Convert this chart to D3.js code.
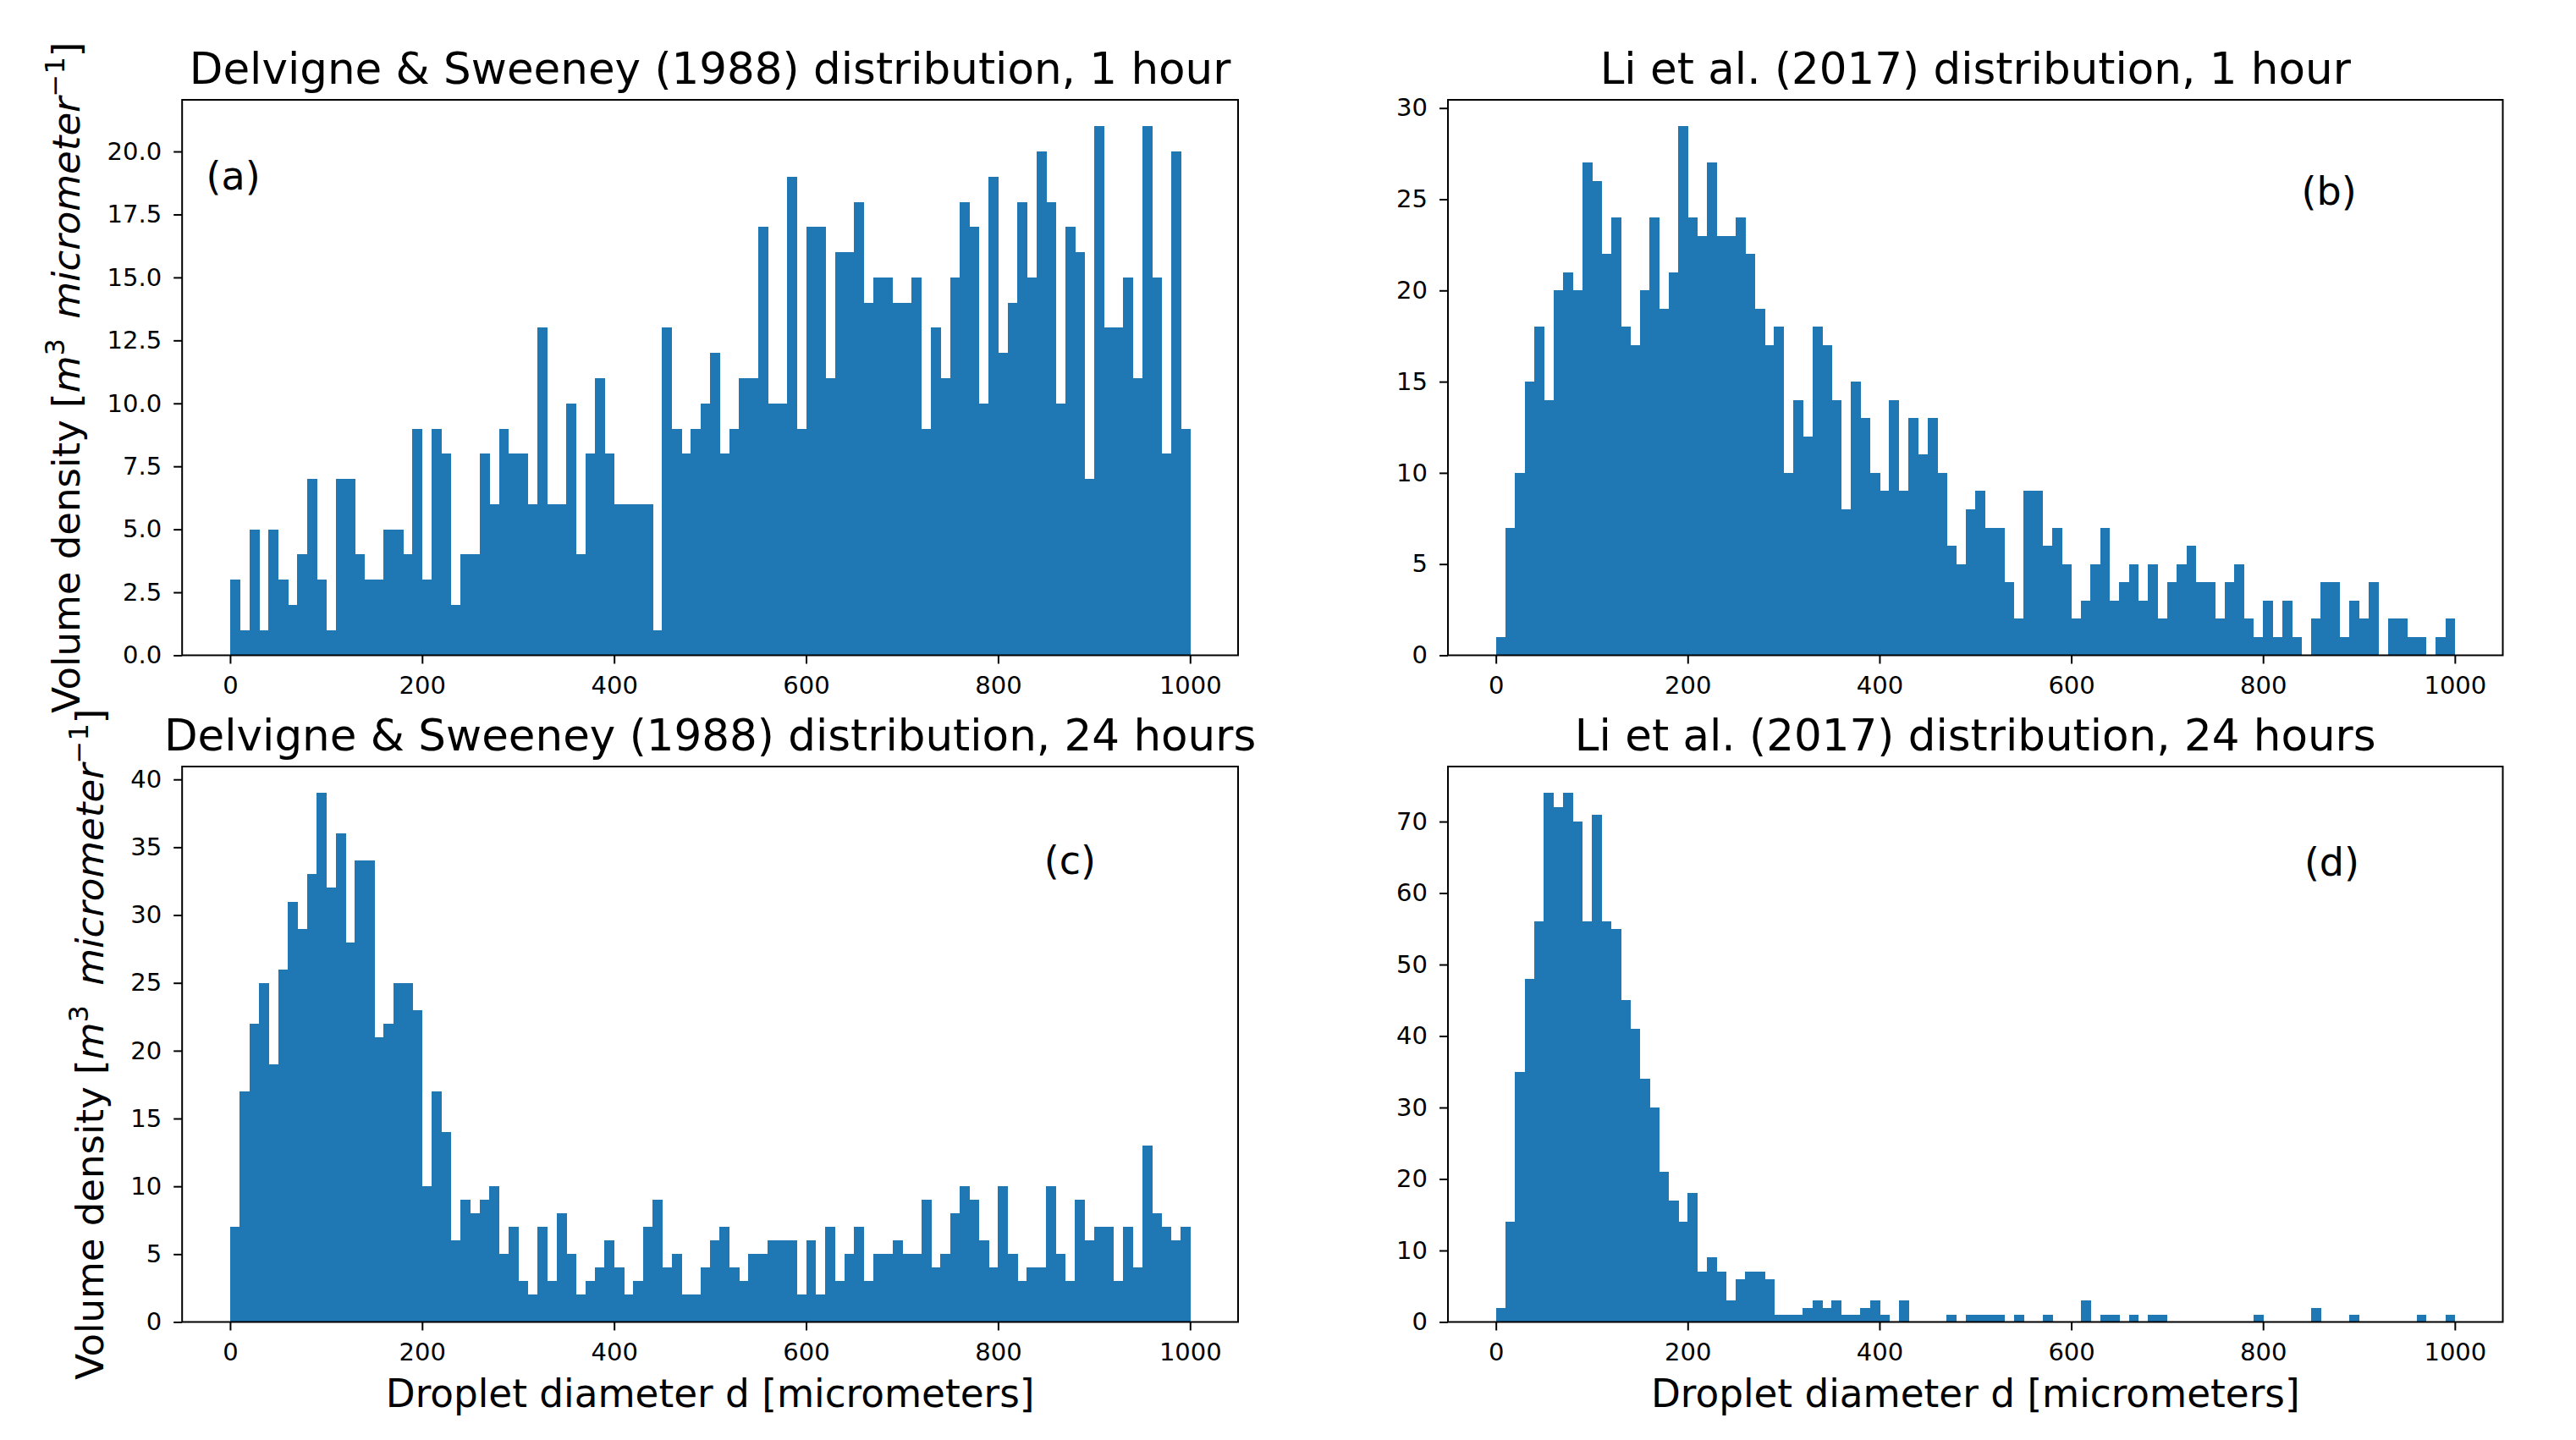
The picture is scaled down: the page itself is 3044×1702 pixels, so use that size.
<!DOCTYPE html>
<html>
<head>
<meta charset="utf-8">
<script src="https://cdn.jsdelivr.net/npm/d3@7"></script>
<style>
  html, body { margin: 0; padding: 0; background: #ffffff; }
  svg { display: block; }
</style>
</head>
<body>
<svg id="chart" width="3044" height="1702"></svg>
<script>
// ---------------- DATA ----------------
// bin left edges (micrometers), bin width 10
const binWidth = 10;
const binStarts = d3.range(0, 1000, binWidth);

// (a) Delvigne & Sweeney (1988), 1 hour
const dsw1h = [
  3,1,5,1,5,3,2,4,7,3,
  1,7,7,4,3,3,5,5,4,9,
  3,9,8,2,4,4,8,6,9,8,
  8,6,13,6,6,10,4,8,11,8,
  6,6,6,6,1,13,9,8,9,10,
  12,8,9,11,11,17,10,10,19,9,
  17,17,11,16,16,18,14,15,15,14,
  14,15,9,13,11,15,18,17,10,19,
  12,14,18,15,20,18,10,17,16,7,
  21,13,13,15,11,21,15,8,20,9
];
// (b) Li et al. (2017), 1 hour
const li1h = [
  1,7,10,15,18,14,20,21,20,27,
  26,22,24,18,17,20,24,19,21,29,
  24,23,27,23,23,24,22,19,17,18,
  10,14,12,18,17,14,8,15,13,10,
  9,14,9,13,11,13,10,6,5,8,
  9,7,7,4,2,9,9,6,7,5,
  2,3,5,7,3,4,5,3,5,2,
  4,5,6,4,4,2,4,5,2,1,
  3,1,3,1,0,2,4,4,1,3,
  2,4,0,2,2,1,1,0,1,2
];
// (c) Delvigne & Sweeney (1988), 24 hours
const dsw24h = [
  7,17,22,25,19,26,31,29,33,39,
  32,36,28,34,34,21,22,25,25,23,
  10,17,14,6,9,8,9,10,5,7,
  3,2,7,3,8,5,2,3,4,6,
  4,2,3,7,9,4,5,2,2,4,
  6,7,4,3,5,5,6,6,6,2,
  6,2,7,3,5,7,3,5,5,6,
  5,5,9,4,5,8,10,9,6,4,
  10,5,3,4,4,10,5,3,9,6,
  7,7,3,7,4,13,8,7,6,7
];
// (d) Li et al. (2017), 24 hours
const li24h = [
  2,14,35,48,56,74,72,74,70,56,
  71,56,55,45,41,34,30,21,17,14,
  18,7,9,7,3,6,7,7,6,1,
  1,1,2,3,2,3,1,1,2,3,
  1,0,3,0,0,0,0,1,0,1,
  1,1,1,0,1,0,0,1,0,0,
  0,3,0,1,1,0,1,0,1,1,
  0,0,0,0,0,0,0,0,0,1,
  0,0,0,0,0,2,0,0,0,1,
  0,0,0,0,0,0,1,0,0,1
];

// tick labels
const xTicks = [0, 200, 400, 600, 800, 1000];
const yTicksA = [0, 2.5, 5, 7.5, 10, 12.5, 15, 17.5, 20];
const yTicksB = [0, 5, 10, 15, 20, 25, 30];
const yTicksC = [0, 5, 10, 15, 20, 25, 30, 35, 40];
const yTicksD = [0, 10, 20, 30, 40, 50, 60, 70];

const titles = [
  "Delvigne & Sweeney (1988) distribution, 1 hour",
  "Li et al. (2017) distribution, 1 hour",
  "Delvigne & Sweeney (1988) distribution, 24 hours",
  "Li et al. (2017) distribution, 24 hours"
];
const panelTags = ["(a)", "(b)", "(c)", "(d)"];
const xLabel = "Droplet diameter d [micrometers]";

// ---------------- LAYOUT ----------------
const FONT = "DejaVu Sans, Verdana, sans-serif";
const barColor = "#1f77b4";

const panels = [
  { values: dsw1h,  yTicks: yTicksA, fmt: d3.format(".1f"), box: {l: 215.2, r: 1463, t: 118, b: 774.5},  tagPos: [-25, 18.5], ylabel: true,  ylabelX: 94,  xlabel: false },
  { values: li1h,   yTicks: yTicksB, fmt: d3.format("d"),   box: {l: 1711,  r: 2957.5, t: 118, b: 774.5}, tagPos: [840, 24.7], ylabel: false, xlabel: false },
  { values: dsw24h, yTicks: yTicksC, fmt: d3.format("d"),   box: {l: 215.2, r: 1463, t: 906, b: 1562.5},  tagPos: [848, 33],   ylabel: true,  ylabelX: 122, xlabel: true },
  { values: li24h,  yTicks: yTicksD, fmt: d3.format("d"),   box: {l: 1711,  r: 2957.5, t: 906, b: 1562.5}, tagPos: [843, 62.4], ylabel: false, xlabel: true }
];

const svg = d3.select("#chart");
svg.append("rect").attr("width", 3044).attr("height", 1702).attr("fill", "#ffffff");

panels.forEach((p, i) => {
  const bx = p.box;
  const x = d3.scaleLinear().domain([-50, 1050]).range([bx.l, bx.r]);
  const ymax = d3.max(p.values) * 1.05;
  const y = d3.scaleLinear().domain([0, ymax]).range([bx.b, bx.t]);

  const g = svg.append("g");

  // bars
  const data = binStarts.map((s, k) => ({ s: s, v: p.values[k] })).filter(d => d.v > 0);
  g.append("g").selectAll("rect").data(data).enter().append("rect")
    .attr("x", d => x(d.s))
    .attr("width", d => x(d.s + binWidth) - x(d.s) + 0.6)
    .attr("y", d => y(d.v))
    .attr("height", d => y(0) - y(d.v))
    .attr("fill", barColor)
    .attr("shape-rendering", "crispEdges");

  // x axis
  const xAxis = d3.axisBottom(x).tickValues(xTicks).tickFormat(d3.format("d"))
    .tickSize(10).tickSizeOuter(0).tickPadding(15);
  const gx = g.append("g").attr("transform", `translate(0,${bx.b})`).call(xAxis);
  gx.select(".domain").remove();
  gx.selectAll("line").attr("stroke", "#000").attr("stroke-width", 2);
  gx.selectAll("text").attr("font-family", FONT).attr("font-size", 29).attr("fill", "#000");

  // y axis
  const yAxis = d3.axisLeft(y).tickValues(p.yTicks).tickFormat(p.fmt)
    .tickSize(10).tickSizeOuter(0).tickPadding(14);
  const gy = g.append("g").attr("transform", `translate(${bx.l},0)`).call(yAxis);
  gy.select(".domain").remove();
  gy.selectAll("line").attr("stroke", "#000").attr("stroke-width", 2);
  gy.selectAll("text").attr("font-family", FONT).attr("font-size", 29).attr("fill", "#000");

  // frame
  g.append("rect")
    .attr("x", bx.l).attr("y", bx.t)
    .attr("width", bx.r - bx.l).attr("height", bx.b - bx.t)
    .attr("fill", "none").attr("stroke", "#000").attr("stroke-width", 2);

  // title
  g.append("text")
    .attr("x", (bx.l + bx.r) / 2).attr("y", bx.t - 19)
    .attr("text-anchor", "middle")
    .attr("font-family", FONT).attr("font-size", 51.5).attr("fill", "#000")
    .text(titles[i]);

  // panel tag
  g.append("text")
    .attr("x", x(p.tagPos[0])).attr("y", y(p.tagPos[1]))
    .attr("font-family", FONT).attr("font-size", 46).attr("fill", "#000")
    .text(panelTags[i]);

  // x label
  if (p.xlabel) {
    g.append("text")
      .attr("x", (bx.l + bx.r) / 2).attr("y", bx.b + 100)
      .attr("text-anchor", "middle")
      .attr("font-family", FONT).attr("font-size", 45.3).attr("fill", "#000")
      .text(xLabel);
  }

  // y label
  if (p.ylabel) {
    const cy = (bx.t + bx.b) / 2;
    const t = g.append("text")
      .attr("transform", `translate(${p.ylabelX},${cy}) rotate(-90)`)
      .attr("text-anchor", "middle")
      .attr("font-family", FONT).attr("font-size", 45).attr("fill", "#000");
    t.append("tspan").text("Volume density [");
    t.append("tspan").attr("font-style", "italic").text("m");
    t.append("tspan").attr("font-size", 32).attr("dy", -18).text("3");
    t.append("tspan").attr("dy", 18).text("\u2009 ");
    t.append("tspan").attr("font-style", "italic").text("micrometer");
    t.append("tspan").attr("font-size", 32).attr("dy", -18).text("\u22121");
    t.append("tspan").attr("dy", 18).text("]");
  }
});
</script>
</body>
</html>
